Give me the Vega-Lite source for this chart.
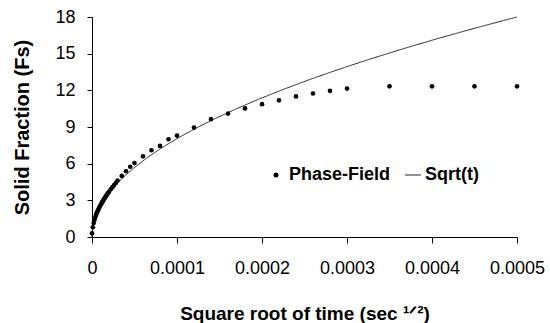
{
  "$schema": "https://vega.github.io/schema/vega-lite/v6.json",
  "autosize": "none",
  "width": 425,
  "height": 220,
  "padding": {"left": 92, "top": 17, "right": 33, "bottom": 86},
  "background": "white",
  "config": {
    "view": {"stroke": null},
    "font": "Liberation Sans"
  },
  "datasets": {
    "pf": [
      {"series": "Phase-Field", "t": 0, "fs": 0.3},
      {"series": "Phase-Field", "t": 0.000001, "fs": 0.8},
      {"series": "Phase-Field", "t": 0.000002, "fs": 1.15},
      {"series": "Phase-Field", "t": 0.000003, "fs": 1.42},
      {"series": "Phase-Field", "t": 0.000004, "fs": 1.65},
      {"series": "Phase-Field", "t": 0.000005, "fs": 1.85},
      {"series": "Phase-Field", "t": 0.000006, "fs": 2.02},
      {"series": "Phase-Field", "t": 0.000007, "fs": 2.18},
      {"series": "Phase-Field", "t": 0.000008, "fs": 2.33},
      {"series": "Phase-Field", "t": 0.000009, "fs": 2.47},
      {"series": "Phase-Field", "t": 0.00001, "fs": 2.6},
      {"series": "Phase-Field", "t": 0.000011, "fs": 2.73},
      {"series": "Phase-Field", "t": 0.000012, "fs": 2.85},
      {"series": "Phase-Field", "t": 0.000013, "fs": 2.97},
      {"series": "Phase-Field", "t": 0.000014, "fs": 3.08},
      {"series": "Phase-Field", "t": 0.000015, "fs": 3.19},
      {"series": "Phase-Field", "t": 0.000016, "fs": 3.3},
      {"series": "Phase-Field", "t": 0.000017, "fs": 3.4},
      {"series": "Phase-Field", "t": 0.000018, "fs": 3.5},
      {"series": "Phase-Field", "t": 0.000019, "fs": 3.6},
      {"series": "Phase-Field", "t": 0.00002, "fs": 3.7},
      {"series": "Phase-Field", "t": 0.000022, "fs": 3.9},
      {"series": "Phase-Field", "t": 0.000024, "fs": 4.08},
      {"series": "Phase-Field", "t": 0.000026, "fs": 4.25},
      {"series": "Phase-Field", "t": 0.000028, "fs": 4.42},
      {"series": "Phase-Field", "t": 0.00003, "fs": 4.62},
      {"series": "Phase-Field", "t": 0.000035, "fs": 5.0},
      {"series": "Phase-Field", "t": 0.00004, "fs": 5.38},
      {"series": "Phase-Field", "t": 0.000045, "fs": 5.75},
      {"series": "Phase-Field", "t": 0.00005, "fs": 6.05},
      {"series": "Phase-Field", "t": 0.00006, "fs": 6.6},
      {"series": "Phase-Field", "t": 0.00007, "fs": 7.1},
      {"series": "Phase-Field", "t": 0.00008, "fs": 7.45},
      {"series": "Phase-Field", "t": 0.00009, "fs": 8.0},
      {"series": "Phase-Field", "t": 0.0001, "fs": 8.3},
      {"series": "Phase-Field", "t": 0.00012, "fs": 8.95},
      {"series": "Phase-Field", "t": 0.00014, "fs": 9.65},
      {"series": "Phase-Field", "t": 0.00016, "fs": 10.1},
      {"series": "Phase-Field", "t": 0.00018, "fs": 10.52},
      {"series": "Phase-Field", "t": 0.0002, "fs": 10.87},
      {"series": "Phase-Field", "t": 0.00022, "fs": 11.18},
      {"series": "Phase-Field", "t": 0.00024, "fs": 11.5},
      {"series": "Phase-Field", "t": 0.00026, "fs": 11.74},
      {"series": "Phase-Field", "t": 0.00028, "fs": 11.96},
      {"series": "Phase-Field", "t": 0.0003, "fs": 12.14},
      {"series": "Phase-Field", "t": 0.00035, "fs": 12.33},
      {"series": "Phase-Field", "t": 0.0004, "fs": 12.33},
      {"series": "Phase-Field", "t": 0.00045, "fs": 12.33},
      {"series": "Phase-Field", "t": 0.0005, "fs": 12.33}
    ],
    "sq": [
      {"series": "Sqrt(t)", "t": 0, "fs": 0},
      {"series": "Sqrt(t)", "t": 0.000001, "fs": 0.805},
      {"series": "Sqrt(t)", "t": 0.000002, "fs": 1.138},
      {"series": "Sqrt(t)", "t": 0.000004, "fs": 1.61},
      {"series": "Sqrt(t)", "t": 0.000006, "fs": 1.972},
      {"series": "Sqrt(t)", "t": 0.000009, "fs": 2.415},
      {"series": "Sqrt(t)", "t": 0.000016, "fs": 3.22},
      {"series": "Sqrt(t)", "t": 0.000025, "fs": 4.025},
      {"series": "Sqrt(t)", "t": 0.000036, "fs": 4.83},
      {"series": "Sqrt(t)", "t": 0.000049, "fs": 5.635},
      {"series": "Sqrt(t)", "t": 0.000064, "fs": 6.44},
      {"series": "Sqrt(t)", "t": 0.000081, "fs": 7.245},
      {"series": "Sqrt(t)", "t": 0.0001, "fs": 8.05},
      {"series": "Sqrt(t)", "t": 0.000121, "fs": 8.855},
      {"series": "Sqrt(t)", "t": 0.000144, "fs": 9.66},
      {"series": "Sqrt(t)", "t": 0.000169, "fs": 10.465},
      {"series": "Sqrt(t)", "t": 0.000196, "fs": 11.27},
      {"series": "Sqrt(t)", "t": 0.000225, "fs": 12.075},
      {"series": "Sqrt(t)", "t": 0.000256, "fs": 12.88},
      {"series": "Sqrt(t)", "t": 0.000289, "fs": 13.685},
      {"series": "Sqrt(t)", "t": 0.000324, "fs": 14.49},
      {"series": "Sqrt(t)", "t": 0.000361, "fs": 15.295},
      {"series": "Sqrt(t)", "t": 0.0004, "fs": 16.1},
      {"series": "Sqrt(t)", "t": 0.000441, "fs": 16.905},
      {"series": "Sqrt(t)", "t": 0.000484, "fs": 17.71},
      {"series": "Sqrt(t)", "t": 0.0005, "fs": 18.0}
    ]
  },
  "encoding": {
    "x": {
      "field": "t", "type": "quantitative",
      "scale": {"domain": [0, 0.0005], "nice": false, "zero": false},
      "axis": {
        "values": [0, 0.0001, 0.0002, 0.0003, 0.0004, 0.0005],
        "format": ".4~f",
        "grid": false,
        "domainColor": "black", "tickColor": "black", "tickSize": 6,
        "labelFontSize": 18, "labelColor": "black", "labelPadding": 16,
        "labelFont": "Liberation Sans", "labelFlush": false,
        "title": "Square root of time (sec \u00b9\u141f\u00b2)",
        "titleFont": "Liberation Sans", "titleFontSize": 19, "titleFontWeight": "bold",
        "titleColor": "black", "titlePadding": 27
      }
    },
    "y": {
      "field": "fs", "type": "quantitative",
      "scale": {"domain": [0, 18], "nice": false},
      "axis": {
        "values": [0, 3, 6, 9, 12, 15, 18],
        "grid": false,
        "domainColor": "black", "tickColor": "black", "tickSize": 5,
        "labelFontSize": 18, "labelColor": "black", "labelPadding": 12,
        "labelFont": "Liberation Sans",
        "title": "Solid Fraction (Fs)",
        "titleFont": "Liberation Sans", "titleFontSize": 20, "titleFontWeight": "bold",
        "titleColor": "black", "titlePadding": 22
      }
    }
  },
  "layer": [
    {
      "data": {"name": "sq"},
      "mark": {"type": "line", "color": "#222", "strokeWidth": 1},
      "encoding": {
        "strokeDash": {
          "field": "series", "type": "nominal",
          "scale": {"domain": ["Sqrt(t)"], "range": [[1, 0]]},
          "legend": {
            "title": null, "orient": "none", "legendX": 312, "legendY": 149,
            "padding": 0, "labelOffset": 3, "symbolSize": 256,
            "symbolStrokeColor": "#222", "symbolStrokeWidth": 1,
            "labelFont": "Liberation Sans", "labelFontSize": 18, "labelFontWeight": "bold",
            "labelColor": "black"
          }
        }
      }
    },
    {
      "data": {"name": "pf"},
      "mark": {"type": "point", "filled": true, "color": "black", "size": 22, "opacity": 1},
      "encoding": {
        "shape": {
          "field": "series", "type": "nominal",
          "scale": {"domain": ["Phase-Field"], "range": ["circle"]},
          "legend": {
            "title": null, "orient": "none", "legendX": 175, "legendY": 149,
            "padding": 0, "labelOffset": 4, "symbolSize": 25,
            "symbolFillColor": "black", "symbolStrokeColor": "black", "symbolOpacity": 1,
            "labelFont": "Liberation Sans", "labelFontSize": 18, "labelFontWeight": "bold",
            "labelColor": "black"
          }
        }
      }
    }
  ]
}
